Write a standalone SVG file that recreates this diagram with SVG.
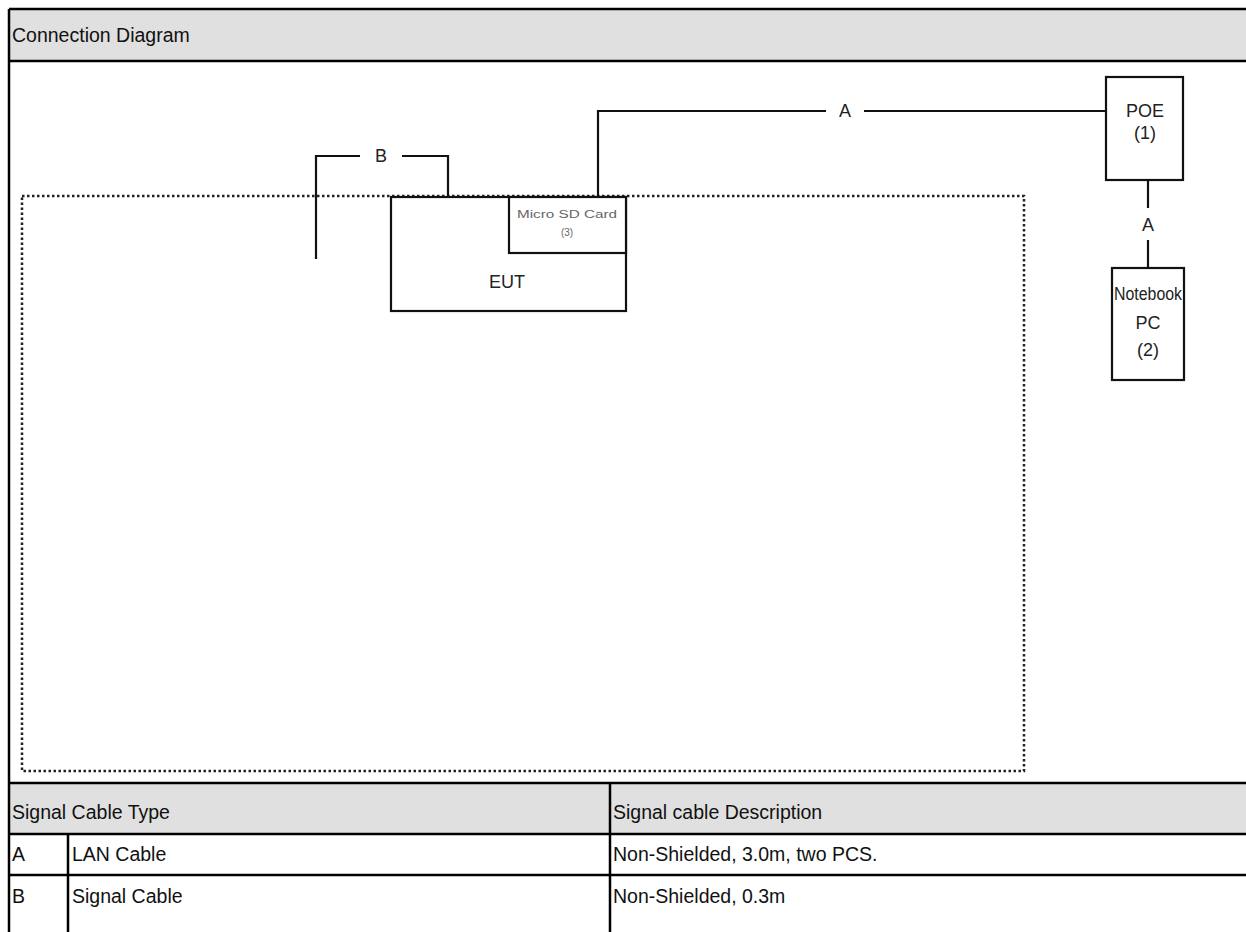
<svg xmlns="http://www.w3.org/2000/svg" width="1246" height="932" viewBox="0 0 1246 932">
<style>
.t{font-family:"Liberation Sans",Arial,sans-serif;font-size:19.5px;fill:#111}
.d{font-family:"Liberation Sans",Arial,sans-serif;font-size:18px;fill:#222;text-anchor:middle}
.s{font-family:"Liberation Sans",Arial,sans-serif;font-size:10px;fill:#666;text-anchor:middle}
.grid{stroke:#000;stroke-width:2.5;fill:none}
.box{stroke:#111;stroke-width:2.2;fill:#fff}
.wire{stroke:#111;stroke-width:2.2;fill:none}
.dot{stroke:#222;stroke-width:2.5;fill:none;stroke-dasharray:2.5 2.5}
</style>
<rect x="0" y="0" width="1246" height="932" fill="#fff"/>
<g id="frame">
<rect x="9" y="9" width="1240" height="52" fill="#e0e0e0"/>
<rect x="9" y="783" width="1240" height="51" fill="#e0e0e0"/>
<path class="grid" d="M9,9 H1250 M9,9 V932 M9,61 H1250 M9,783 H1250 M9,834 H1250 M9,875 H1250 M610,783 V932 M68,834 V932"/>
<text class="t" x="12" y="42">Connection Diagram</text>
<text class="t" x="12" y="819">Signal Cable Type</text>
<text class="t" x="613" y="819">Signal cable Description</text>
<text class="t" x="12" y="861">A</text>
<text class="t" x="72" y="861">LAN Cable</text>
<text class="t" x="613" y="861">Non-Shielded, 3.0m, two PCS.</text>
<text class="t" x="12" y="903">B</text>
<text class="t" x="72" y="903">Signal Cable</text>
<text class="t" x="613" y="903">Non-Shielded, 0.3m</text>
</g>
<g id="table-area">
<rect class="dot" x="22" y="196" width="1002" height="575"/>
</g>
<g id="connectors">
<path class="wire" d="M316,259 V156 H360 M402,156 H448 V197"/>
<text class="d" x="381" y="162">B</text>
<path class="wire" d="M598,197 V111 H826 M864,111 H1106"/>
<text class="d" x="845" y="117">A</text>
<path class="wire" d="M1148,180 V208 M1148,240 V268"/>
<text class="d" x="1148" y="231">A</text>
</g>
<g id="eut">
<rect class="box" x="391" y="197" width="235" height="114"/>
<text class="d" x="507" y="288">EUT</text>
</g>
<g id="sdcard">
<rect class="box" x="509" y="197" width="117" height="56"/>
<text class="s" x="567" y="218" textLength="100" lengthAdjust="spacingAndGlyphs">Micro SD Card</text>
<text class="s" x="567" y="236">(3)</text>
</g>
<g id="poe">
<rect class="box" x="1106" y="77" width="77" height="103"/>
<text class="d" x="1145" y="117">POE</text>
<text class="d" x="1145" y="139">(1)</text>
</g>
<g id="notebook">
<rect class="box" x="1112" y="268" width="72" height="112"/>
<text class="d" x="1148" y="300" textLength="68" lengthAdjust="spacingAndGlyphs">Notebook</text>
<text class="d" x="1148" y="329">PC</text>
<text class="d" x="1148" y="356">(2)</text>
</g>
</svg>
